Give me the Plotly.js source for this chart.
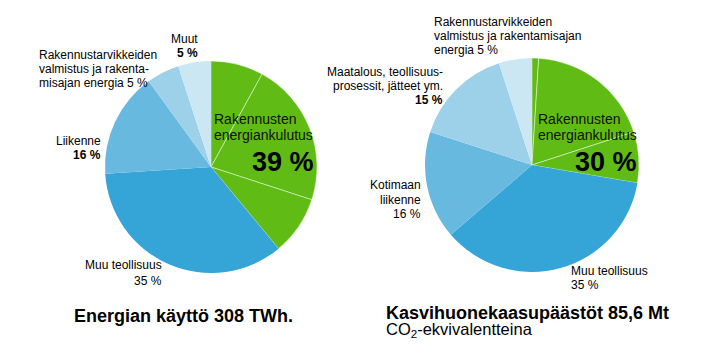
<!DOCTYPE html>
<html>
<head>
<meta charset="utf-8">
<script src="https://cdn.plot.ly/plotly-3.0.1.min.js"></script>
<style>
html,body{margin:0;padding:0;background:#fff;}
#chart{width:706px;height:363px;}
</style>
</head>
<body>
<div id="chart"></div>
<script>
// ---- Data ----
var leftSlices = ['Rakennusten energiankulutus A', 'Rakennusten energiankulutus B', 'Rakennusten energiankulutus C',
                  'Muu teollisuus', 'Liikenne', 'Rakennustarvikkeiden valmistus ja rakentamisajan energia', 'Muut'];
var leftValues = [8, 22, 9, 35, 16, 5, 5];

var rightSlices = ['Rakennusten energiankulutus A', 'Rakennusten energiankulutus B', 'Rakennusten energiankulutus C',
                   'Muu teollisuus', 'Kotimaan liikenne', 'Maatalous, teollisuusprosessit, jätteet ym.',
                   'Rakennustarvikkeiden valmistus ja rakentamisajan energia'];
var rightValues = [1, 19, 7.7, 36, 16.3, 15, 5];

var leftTitle = 'Energian käyttö 308 TWh.';
var rightTitle = 'Kasvihuonekaasupäästöt 85,6 Mt';
var rightSubtitle = 'CO<sub>2</sub>-ekvivalentteina';
var groupLabel = ['Rakennusten', 'energiankulutus'];
var leftGroupShare = '39 %';
var rightGroupShare = '30 %';

// ---- Styles ----
var GREEN = '#60bc14';
var leftColors = [GREEN, GREEN, GREEN, '#35a4d6', '#67b9df', '#9dd1ea', '#cce7f4'];
var rightColors = [GREEN, GREEN, GREEN, '#35a4d6', '#67b9df', '#9dd1ea', '#cce7f4'];
var leftLineW = [1, 1, 1, 0, 0, 0, 0];
var rightLineW = [1, 1, 1, 0, 0, 0, 0];
var lineCol = 'rgba(255,255,255,0.45)';

var W = 706, H = 363;
function dom(cx, cy, r) {
  return {x: [(cx - r) / W, (cx + r) / W], y: [1 - (cy + r) / H, 1 - (cy - r) / H]};
}

var common = {
  type: 'pie', sort: false, direction: 'clockwise', rotation: 0,
  textinfo: 'none', hoverinfo: 'label+percent', showlegend: false
};

var traces = [
  Object.assign({}, common, {
    labels: leftSlices, values: leftValues,
    marker: {colors: leftColors, line: {color: lineCol, width: leftLineW}},
    domain: dom(211, 167, 106)
  }),
  Object.assign({}, common, {
    labels: rightSlices, values: rightValues,
    marker: {colors: rightColors, line: {color: lineCol, width: rightLineW}},
    domain: dom(532, 165, 107)
  })
];

var FONT = 'Liberation Sans, Arial, sans-serif';
function ann(text, px, py, anchor, size, color) {
  return {
    text: text, xref: 'paper', yref: 'paper', x: px / W, y: 1 - py / H,
    xanchor: anchor, yanchor: 'middle', showarrow: false,
    font: {family: FONT, size: size || 12, color: color || '#000'}
  };
}

var annotations = [
  // left pie labels
  ann('Muut', 200, 39, 'right'),
  ann('<b>5 %</b>', 200, 53, 'right'),
  ann('Rakennustarvikkeiden', 37, 55, 'left'),
  ann('valmistus ja rakenta-', 37, 69, 'left'),
  ann('misajan energia 5 %', 37, 83, 'left'),
  ann('Liikenne', 103, 141, 'right'),
  ann('<b>16 %</b>', 103, 155, 'right'),
  ann('Muu teollisuus', 164, 265, 'right'),
  ann('35 %', 164, 281, 'right'),
  ann(groupLabel[0], 212, 119, 'left', 14, '#111'),
  ann(groupLabel[1], 212, 135, 'left', 14, '#111'),
  ann('<b>' + leftGroupShare + '</b>', 316, 162, 'right', 27),
  // right pie labels
  ann('Rakennustarvikkeiden', 432, 22, 'left'),
  ann('valmistus ja rakentamisajan', 432, 36, 'left'),
  ann('energia 5 %', 432, 50, 'left'),
  ann('Maatalous, teollisuus-', 445, 72, 'right'),
  ann('prosessit, jätteet ym.', 445, 86, 'right'),
  ann('<b>15 %</b>', 445, 100, 'right'),
  ann('Kotimaan', 423, 185, 'right'),
  ann('liikenne', 423, 200, 'right'),
  ann('16 %', 423, 214, 'right'),
  ann('Muu teollisuus', 569, 271, 'left'),
  ann('35 %', 569, 285, 'left'),
  ann(groupLabel[0], 536, 119, 'left', 14, '#111'),
  ann(groupLabel[1], 536, 135, 'left', 14, '#111'),
  ann('<b>' + rightGroupShare + '</b>', 639, 162, 'right', 27),
  // titles
  ann('<b>' + leftTitle + '</b>', 72, 316, 'left', 18),
  ann('<b>' + rightTitle + '</b>', 384, 313, 'left', 18),
  ann(rightSubtitle, 384, 330, 'left', 16.5)
];

var layout = {
  width: W, height: H,
  margin: {l: 0, r: 0, t: 0, b: 0},
  paper_bgcolor: '#fff', plot_bgcolor: '#fff',
  showlegend: false,
  annotations: annotations
};

Plotly.newPlot('chart', traces, layout, {displayModeBar: false, staticPlot: true});
</script>
</body>
</html>
